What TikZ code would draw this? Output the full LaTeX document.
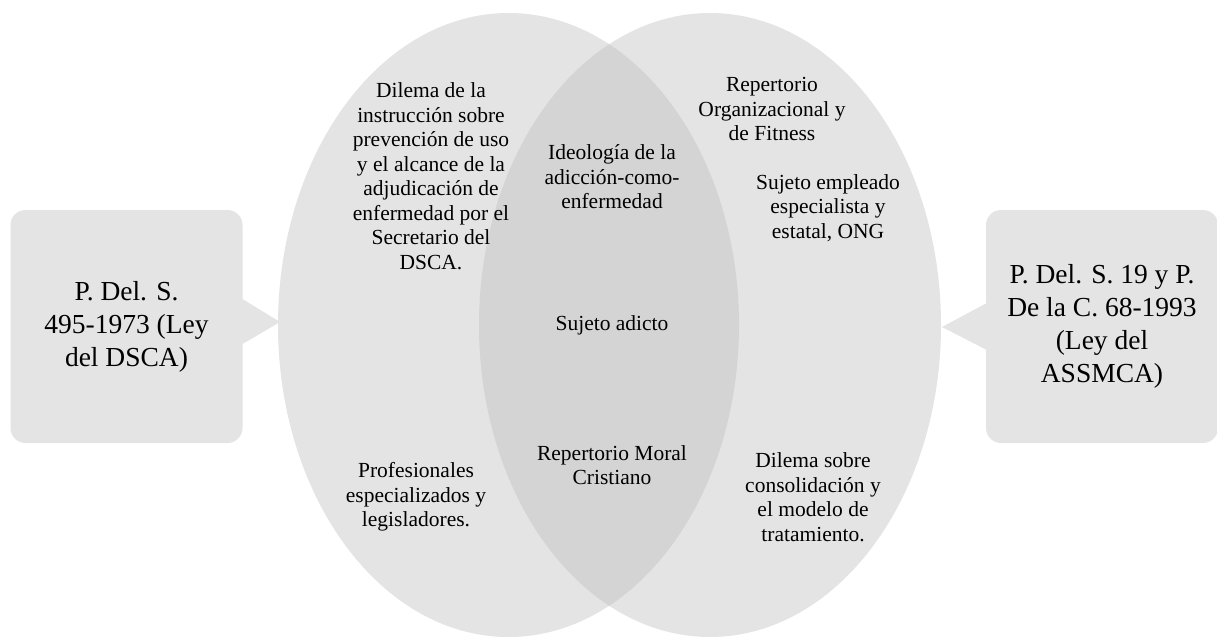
\documentclass[tikz,border=0pt]{standalone}
\usepackage{fontspec}
\setmainfont{Liberation Serif}
\definecolor{vennfill}{HTML}{E4E4E4}
\definecolor{vennover}{HTML}{D4D4D4}

\begin{document}
\begin{tikzpicture}[x=1pt, y=-1pt,
        every node/.style = {align=center, inner sep=0pt, font=\fontsize{21.5}{24.5}\selectfont},
        lawbox/.style = {fill=vennfill, rounded corners=15pt, minimum width=232pt, minimum height=233pt, font=\fontsize{27.5}{33}\selectfont}
    ]
    \useasboundingbox (0,0) rectangle (1217,639);

    % the two sets
    \fill[vennfill] (508.5,325) ellipse [x radius=230.5, y radius=312];
    \fill[vennfill] (710,325) ellipse [x radius=231, y radius=312];
    \begin{scope}
        \clip (508.5,325) ellipse [x radius=230.5, y radius=312];
        \fill[vennover] (710,325) ellipse [x radius=231, y radius=312];
    \end{scope}

    % laws
    \node[lawbox] (dsca) at (126.5,326.5) {P. Del. S.\\495-1973 (Ley\\del DSCA)};
    \node[lawbox] (assmca) at (1102,326.5) {P. Del. S. 19 y P.\\De la C. 68-1993\\(Ley del\\ASSMCA)};
    \coordinate (dscatip) at (280,322);
    \coordinate (assmcatip) at (942,327);
    \fill[vennfill] ([xshift=-1pt, yshift=28pt]dsca.east) -- (dscatip) -- ([xshift=-1pt, yshift=-18pt]dsca.east) -- cycle;
    \fill[vennfill] ([xshift=1pt, yshift=23.5pt]assmca.west) -- (assmcatip) -- ([xshift=1pt, yshift=-23.5pt]assmca.west) -- cycle;

    % left set
    \node (dilemadsca) at (431,176) {Dilema de la\\instrucción sobre\\prevención de uso\\y el alcance de la\\adjudicación de\\enfermedad por el\\Secretario del\\DSCA.};
    \node (profesionales) at (416,497) {Profesionales\\especializados y\\legisladores.};

    % overlap
    \node (ideologia) at (612,177) {Ideología de la\\adicción-como-\\enfermedad};
    \node (adicto) at (612,325) {Sujeto adicto};
    \node (moral) at (612,465) {Repertorio Moral\\Cristiano};

    % right set
    \node (organizacional) at (772,109) {Repertorio\\Organizacional y\\de Fitness};
    \node (empleado) at (828,208) {Sujeto empleado\\especialista y\\estatal, ONG};
    \node (consolidacion) at (813,497) {Dilema sobre\\consolidación y\\el modelo de\\tratamiento.};
\end{tikzpicture}
\end{document}
